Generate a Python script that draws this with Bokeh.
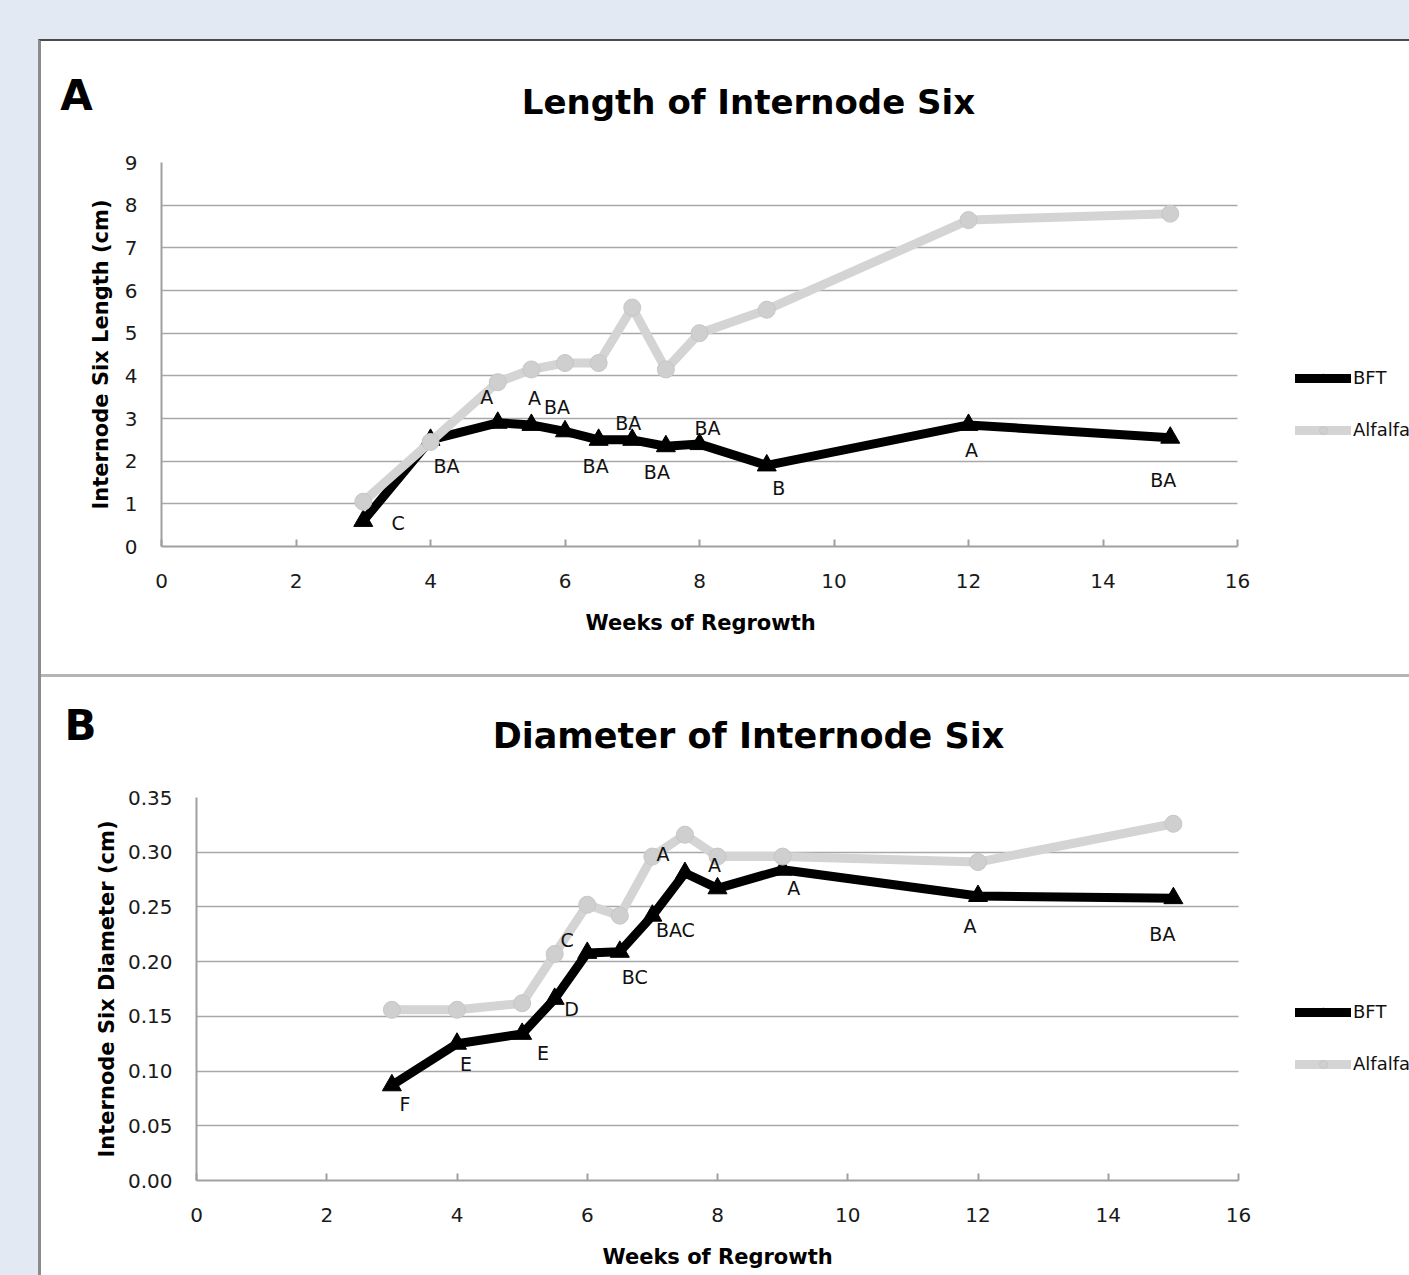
from bokeh.plotting import figure
from bokeh.models import (Label, Legend, LegendItem, ColumnDataSource, FixedTicker,
                          Range1d, GlobalInlineStyleSheet, Div, NumeralTickFormatter,
                          BoxAnnotation, Title)
from bokeh.layouts import column
from bokeh.embed import file_html
from bokeh.resources import INLINE
from bokeh.core.properties import value

# ---------------- data ----------------
weeks = [3, 4, 5, 5.5, 6, 6.5, 7, 7.5, 8, 9, 12, 15]

length_bft = [0.6, 2.5, 2.9, 2.85, 2.7, 2.5, 2.5, 2.35, 2.4, 1.9, 2.85, 2.55]
length_alfalfa = [1.05, 2.45, 3.85, 4.15, 4.3, 4.3, 5.6, 4.15, 5.0, 5.55, 7.65, 7.8]
length_letters = ["C", "BA", "A", "A", "BA", "BA", "BA", "BA", "BA", "B", "A", "BA"]

diam_bft = [0.087, 0.125, 0.134, 0.166, 0.208, 0.209, 0.242, 0.281, 0.267, 0.284, 0.26, 0.258]
diam_alfalfa = [0.156, 0.156, 0.162, 0.207, 0.252, 0.242, 0.296, 0.316, 0.296, 0.296, 0.291, 0.326]
diam_letters = ["F", "E", "E", "D", "C", "BC", "BAC", "A", "A", "A", "A", "BA"]

x_ticks = [0, 2, 4, 6, 8, 10, 12, 14, 16]
length_ticks = [0, 1, 2, 3, 4, 5, 6, 7, 8, 9]
diam_ticks = [0, 0.05, 0.10, 0.15, 0.20, 0.25, 0.30, 0.35]

series_names = ["BFT", "Alfalfa"]
x_label = "Weeks of Regrowth"

# label offsets in pixels (dx right, dy down)
length_dx = [35, 16, -11, 3, -8, -3, -4, -9, 8, 12, 3, -7]
length_dy = [2, 26, -26, -27, -24, 26, -17, 26, -16, 23, 25, 42]
diam_dx = [13, 9, 21, 17, -20, 15, 23, -22, -3, 11, -8, -11]
diam_dy = [19, 20, 19, 10, -13, 25, 14, -19, -23, 18, 30, 36]

FONT = "DejaVu Sans"
BLACK = "#000000"
GREY_LINE = "#d4d4d4"
GREY_FILL = "#cfcfcf"
AXIS_GREY = "#a0a0a0"
W = 1368
X_MAX = 16


def make_header(height, title, letter, title_pos, letter_pos, title_size):
    h = figure(width=W, height=height, output_backend="svg", toolbar_location=None,
               x_range=Range1d(0, 1), y_range=Range1d(0, 1),
               x_axis_location=None, y_axis_location=None,
               min_border=0, min_border_left=0, min_border_right=0,
               min_border_top=0, min_border_bottom=0)
    h.frame_align = False
    h.outline_line_color = None
    h.grid.visible = False
    h.background_fill_color = "white"
    h.border_fill_color = "white"
    h.add_layout(Label(x=title_pos[0], y=title_pos[1], x_units="screen", y_units="screen",
                       text=title, text_font=FONT, text_font_size=title_size,
                       text_font_style="bold", text_align="center",
                       text_baseline="middle", text_color="#000000"))
    h.add_layout(Label(x=letter_pos[0], y=letter_pos[1], x_units="screen", y_units="screen",
                       text=letter, text_font=FONT, text_font_size="42px",
                       text_font_style="bold", text_align="center",
                       text_baseline="middle", text_color="#000000"))
    return h


def make_panel(height, left, top, bottom, axis_px, y_end, y_ticks, bft, alf, letters,
               dx, dy, ylabel, ylabel_standoff, legend_loc, xlabel_offset, xlabel_standoff,
               yfmt=None):
    frame_w = W - left
    x_end = X_MAX * frame_w / axis_px   # frame runs on to the right edge (legend area)
    p = figure(width=W, height=height, output_backend="svg", toolbar_location=None,
               x_range=Range1d(0, x_end), y_range=Range1d(0, y_end),
               min_border_left=left, min_border_right=0,
               min_border_top=top, min_border_bottom=bottom)
    p.frame_align = False
    p.background_fill_color = "white"
    p.border_fill_color = "white"
    p.outline_line_color = None

    p.xgrid.grid_line_color = None
    p.ygrid.grid_line_color = "#a8a8a8"
    p.ygrid.grid_line_width = 1.5
    p.ygrid.ticker = FixedTicker(ticks=y_ticks)

    # white cover so that the gridlines stop at the end of the x axis
    p.add_layout(BoxAnnotation(left=X_MAX, fill_color="white", fill_alpha=1,
                               line_color=None, level="underlay"))

    p.xaxis.ticker = FixedTicker(ticks=x_ticks)
    p.xaxis.bounds = (0, X_MAX)
    p.yaxis.ticker = FixedTicker(ticks=y_ticks)
    if yfmt:
        p.yaxis.formatter = NumeralTickFormatter(format=yfmt)
    for ax in (p.xaxis, p.yaxis):
        ax.axis_line_color = AXIS_GREY
        ax.axis_line_width = 2
        ax.minor_tick_line_color = None
        ax.major_label_text_font = FONT
        ax.major_label_text_font_size = "20px"
        ax.major_label_text_color = "#1a1a1a"
        ax.axis_label_text_font = FONT
        ax.axis_label_text_font_size = "21px"
        ax.axis_label_text_font_style = "bold"
        ax.axis_label_text_color = "#000000"
    p.xaxis.major_tick_in = 7
    p.xaxis.major_tick_out = 0
    p.xaxis.major_tick_line_color = AXIS_GREY
    p.xaxis.major_tick_line_width = 2
    p.xaxis.major_label_standoff = 27
    p.yaxis.major_tick_line_color = None
    p.yaxis.major_tick_in = 0
    p.yaxis.major_tick_out = 0
    p.yaxis.major_label_standoff = 24
    p.yaxis.axis_label = ylabel
    p.yaxis.axis_label_standoff = ylabel_standoff

    # x axis title, centred under the axis itself (not the wider frame)
    p.add_layout(Title(text=x_label, align="left", offset=xlabel_offset,
                       vertical_align="middle", standoff=xlabel_standoff,
                       text_font=FONT, text_font_size="21px", text_font_style="bold",
                       text_color="#000000"), "below")

    src = ColumnDataSource(dict(x=weeks, bft=bft, alf=alf, lab=letters, dx=dx, dy=dy))

    l1 = p.line("x", "bft", source=src, line_color=BLACK, line_width=9,
                line_join="round", line_cap="round")
    m1 = p.scatter("x", "bft", source=src, marker="triangle", size=19,
                   fill_color=BLACK, line_color=BLACK)
    l2 = p.line("x", "alf", source=src, line_color=GREY_LINE, line_width=9,
                line_join="round", line_cap="round")
    m2 = p.scatter("x", "alf", source=src, marker="circle", size=17,
                   fill_color=GREY_FILL, line_color="#c6c6c6", line_width=1)

    p.text("x", "bft", text="lab", source=src, x_offset="dx", y_offset="dy",
           text_font=value(FONT), text_font_size="19px", text_color="#111111",
           text_align="center", text_baseline="middle")

    legend = Legend(items=[LegendItem(label=series_names[0], renderers=[l1, m1]),
                           LegendItem(label=series_names[1], renderers=[l2, m2])],
                    location=legend_loc, orientation="vertical",
                    label_text_font=FONT, label_text_font_size="18px",
                    label_text_color="#111111",
                    glyph_width=56, glyph_height=20, label_height=20,
                    label_standoff=2, spacing=31, padding=0, margin=0,
                    border_line_color=None, background_fill_alpha=0)
    p.add_layout(legend, "center")
    return p


header1 = make_header(100, "Length of Internode Six", "A", (707, 40), (35, 46), "34px")
p1 = make_panel(533, 120, 21, 128, 1076, 9, length_ticks,
                length_bft, length_alfalfa, length_letters, length_dx, length_dy,
                "Internode Six Length (cm)", 9, (1134, 106), 424, 38)

sep = Div(width=W, height=3, margin=(0, 0, 0, 0),
          styles={"background-color": "#b5b5b5"})

header2 = make_header(100, "Diameter of Internode Six", "B", (707, 42), (39, 52), "35px")
p2 = make_panel(520, 155, 20, 117, 1042, 0.35, diam_ticks,
                diam_bft, diam_alfalfa, diam_letters, diam_dx, diam_dy,
                "Internode Six Diameter (cm)", 6, (1099, 106), 406, 38, yfmt="0.00")

css = GlobalInlineStyleSheet(css="html, body { background-color: #e2e9f2; overflow: hidden; }")

layout = column(header1, p1, sep, header2, p2, margin=(39, 0, 0, 38), spacing=0,
                styles={"border-left": "3px solid #8c8c8c", "border-top": "2px solid #4a4a4a",
                        "background-color": "white"},
                stylesheets=[css])

open("out.html", "w").write(file_html(layout, INLINE))
